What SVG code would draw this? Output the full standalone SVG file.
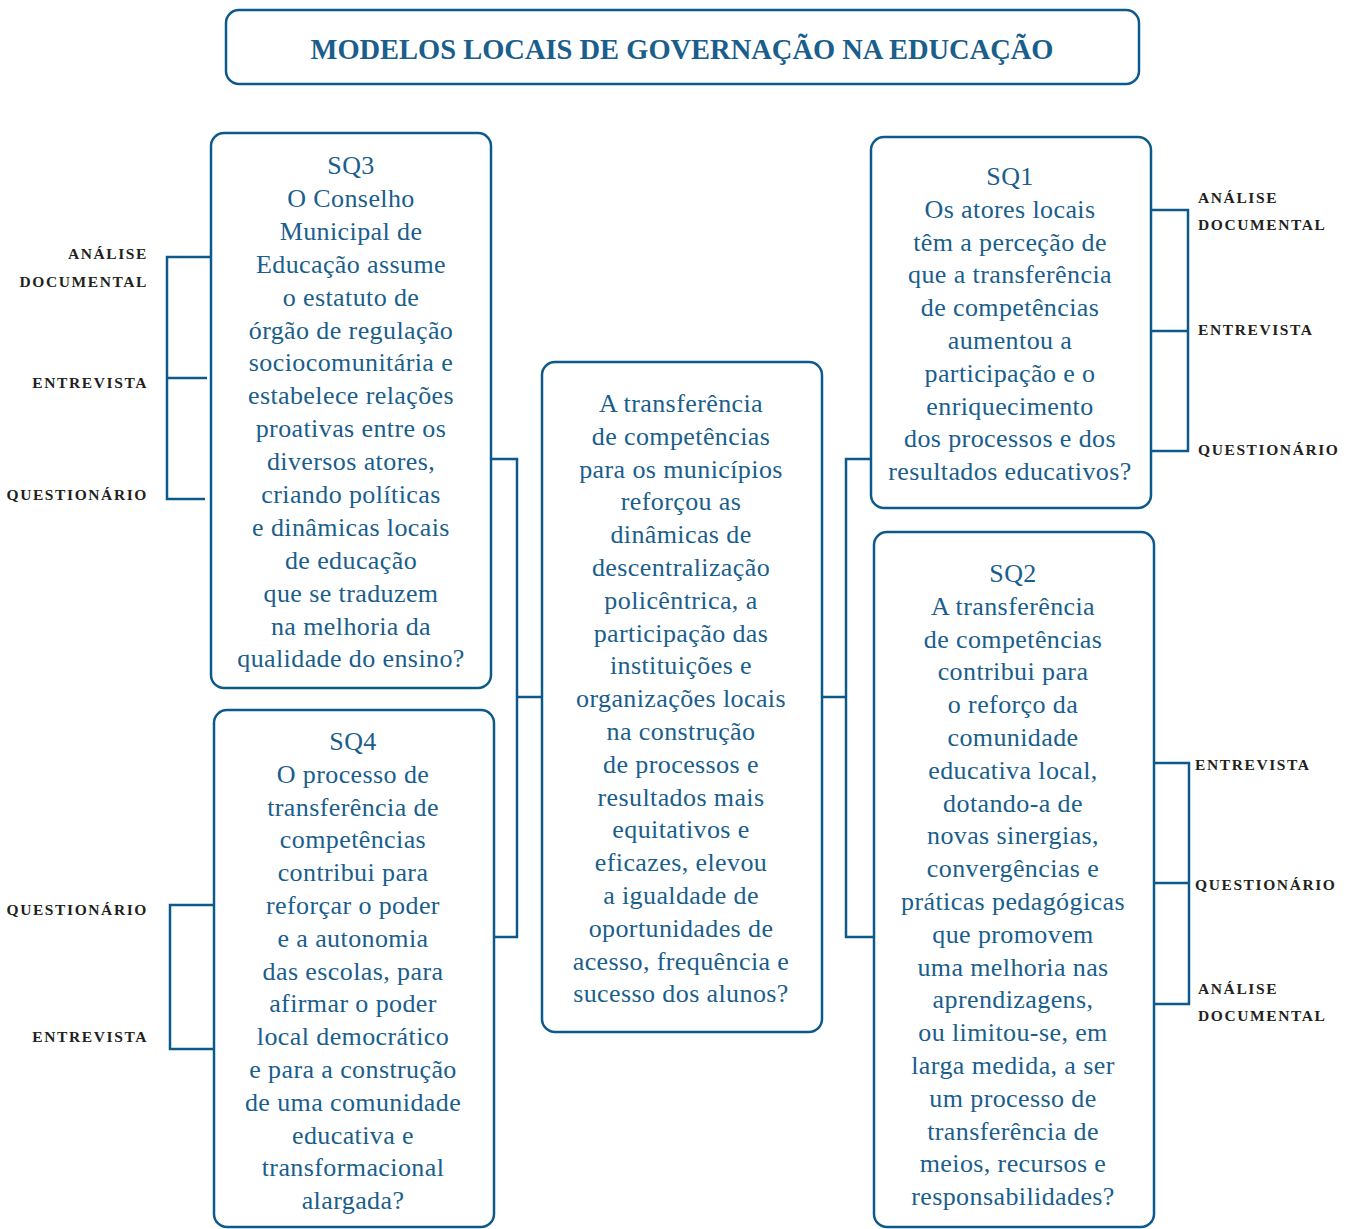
<svg xmlns="http://www.w3.org/2000/svg" width="1351" height="1229" viewBox="0 0 1351 1229">
<style>
.box{fill:#fff;stroke:#0d5a8a;stroke-width:2.5}
.ln{fill:none;stroke:#0d5a8a;stroke-width:2.5}
.t{font-family:"Liberation Serif","Times New Roman",serif;font-size:26px;letter-spacing:0.4px;fill:#1a5e8c;text-anchor:middle}
.ttl{font-family:"Liberation Serif","Times New Roman",serif;font-size:29px;font-weight:bold;fill:#1a5e8c;text-anchor:middle}
.lb{font-family:"Liberation Serif","Times New Roman",serif;font-size:15.5px;font-weight:bold;fill:#231f20;letter-spacing:1.6px}
.r{text-anchor:end}
</style>
<rect width="1351" height="1229" fill="#fff"/>
<g id="title">
<rect class="box" x="226" y="10" width="913" height="74" rx="13"/>
<text class="ttl" x="682" y="59" textLength="743" lengthAdjust="spacingAndGlyphs">MODELOS LOCAIS DE GOVERNAÇÃO NA EDUCAÇÃO</text>
</g>
<g id="connectors">
<path class="ln" d="M491 459H517V937H494M517 697H542"/>
<path class="ln" d="M871 459H846V937H874M822 697H846"/>
<path class="ln" d="M210 257H167V499H205M167 378H207"/>
<path class="ln" d="M214 905H170V1049H214"/>
<path class="ln" d="M1151 210H1188V451H1151M1151 331H1188"/>
<path class="ln" d="M1154 763H1189V1004H1154M1154 883H1189"/>
</g>
<g id="sq3">
<rect class="box" x="211" y="133" width="280" height="555" rx="13"/>
<text class="t" x="351" y="174"><tspan x="351">SQ3</tspan><tspan x="351" dy="32.9">O Conselho</tspan><tspan x="351" dy="32.9">Municipal de</tspan><tspan x="351" dy="32.9">Educação assume</tspan><tspan x="351" dy="32.9">o estatuto de</tspan><tspan x="351" dy="32.9">órgão de regulação</tspan><tspan x="351" dy="32.9">sociocomunitária e</tspan><tspan x="351" dy="32.9">estabelece relações</tspan><tspan x="351" dy="32.9">proativas entre os</tspan><tspan x="351" dy="32.9">diversos atores,</tspan><tspan x="351" dy="32.9">criando políticas</tspan><tspan x="351" dy="32.9">e dinâmicas locais</tspan><tspan x="351" dy="32.9">de educação</tspan><tspan x="351" dy="32.9">que se traduzem</tspan><tspan x="351" dy="32.9">na melhoria da</tspan><tspan x="351" dy="32.9">qualidade do ensino?</tspan></text>
</g>
<g id="sq4">
<rect class="box" x="214" y="710" width="280" height="517" rx="13"/>
<text class="t" x="353" y="750"><tspan x="353">SQ4</tspan><tspan x="353" dy="32.8">O processo de</tspan><tspan x="353" dy="32.8">transferência de</tspan><tspan x="353" dy="32.8">competências</tspan><tspan x="353" dy="32.8">contribui para</tspan><tspan x="353" dy="32.8">reforçar o poder</tspan><tspan x="353" dy="32.8">e a autonomia</tspan><tspan x="353" dy="32.8">das escolas, para</tspan><tspan x="353" dy="32.8">afirmar o poder</tspan><tspan x="353" dy="32.8">local democrático</tspan><tspan x="353" dy="32.8">e para a construção</tspan><tspan x="353" dy="32.8">de uma comunidade</tspan><tspan x="353" dy="32.8">educativa e</tspan><tspan x="353" dy="32.8">transformacional</tspan><tspan x="353" dy="32.8">alargada?</tspan></text>
</g>
<g id="center">
<rect class="box" x="542" y="362" width="280" height="670" rx="13"/>
<text class="t" x="681" y="412"><tspan x="681">A transferência</tspan><tspan x="681" dy="32.8">de competências</tspan><tspan x="681" dy="32.8">para os municípios</tspan><tspan x="681" dy="32.8">reforçou as</tspan><tspan x="681" dy="32.8">dinâmicas de</tspan><tspan x="681" dy="32.8">descentralização</tspan><tspan x="681" dy="32.8">policêntrica, a</tspan><tspan x="681" dy="32.8">participação das</tspan><tspan x="681" dy="32.8">instituições e</tspan><tspan x="681" dy="32.8">organizações locais</tspan><tspan x="681" dy="32.8">na construção</tspan><tspan x="681" dy="32.8">de processos e</tspan><tspan x="681" dy="32.8">resultados mais</tspan><tspan x="681" dy="32.8">equitativos e</tspan><tspan x="681" dy="32.8">eficazes, elevou</tspan><tspan x="681" dy="32.8">a igualdade de</tspan><tspan x="681" dy="32.8">oportunidades de</tspan><tspan x="681" dy="32.8">acesso, frequência e</tspan><tspan x="681" dy="32.8">sucesso dos alunos?</tspan></text>
</g>
<g id="sq1">
<rect class="box" x="871" y="137" width="280" height="371" rx="13"/>
<text class="t" x="1010" y="185"><tspan x="1010">SQ1</tspan><tspan x="1010" dy="32.8">Os atores locais</tspan><tspan x="1010" dy="32.8">têm a perceção de</tspan><tspan x="1010" dy="32.8">que a transferência</tspan><tspan x="1010" dy="32.8">de competências</tspan><tspan x="1010" dy="32.8">aumentou a</tspan><tspan x="1010" dy="32.8">participação e o</tspan><tspan x="1010" dy="32.8">enriquecimento</tspan><tspan x="1010" dy="32.8">dos processos e dos</tspan><tspan x="1010" dy="32.8">resultados educativos?</tspan></text>
</g>
<g id="sq2">
<rect class="box" x="874" y="532" width="280" height="695" rx="13"/>
<text class="t" x="1013" y="582"><tspan x="1013">SQ2</tspan><tspan x="1013" dy="32.8">A transferência</tspan><tspan x="1013" dy="32.8">de competências</tspan><tspan x="1013" dy="32.8">contribui para</tspan><tspan x="1013" dy="32.8">o reforço da</tspan><tspan x="1013" dy="32.8">comunidade</tspan><tspan x="1013" dy="32.8">educativa local,</tspan><tspan x="1013" dy="32.8">dotando-a de</tspan><tspan x="1013" dy="32.8">novas sinergias,</tspan><tspan x="1013" dy="32.8">convergências e</tspan><tspan x="1013" dy="32.8">práticas pedagógicas</tspan><tspan x="1013" dy="32.8">que promovem</tspan><tspan x="1013" dy="32.8">uma melhoria nas</tspan><tspan x="1013" dy="32.8">aprendizagens,</tspan><tspan x="1013" dy="32.8">ou limitou-se, em</tspan><tspan x="1013" dy="32.8">larga medida, a ser</tspan><tspan x="1013" dy="32.8">um processo de</tspan><tspan x="1013" dy="32.8">transferência de</tspan><tspan x="1013" dy="32.8">meios, recursos e</tspan><tspan x="1013" dy="32.8">responsabilidades?</tspan></text>
</g>
<g id="labels-sq3">
<text class="lb r" x="148" y="259">ANÁLISE</text>
<text class="lb r" x="148" y="287">DOCUMENTAL</text>
<text class="lb r" x="148" y="388">ENTREVISTA</text>
<text class="lb r" x="148" y="500">QUESTIONÁRIO</text>
</g>
<g id="labels-sq4">
<text class="lb r" x="148" y="915">QUESTIONÁRIO</text>
<text class="lb r" x="148" y="1042">ENTREVISTA</text>
</g>
<g id="labels-sq1">
<text class="lb" x="1198" y="203">ANÁLISE</text>
<text class="lb" x="1198" y="230">DOCUMENTAL</text>
<text class="lb" x="1198" y="335">ENTREVISTA</text>
<text class="lb" x="1198" y="455">QUESTIONÁRIO</text>
</g>
<g id="labels-sq2">
<text class="lb" x="1195" y="770">ENTREVISTA</text>
<text class="lb" x="1195" y="890">QUESTIONÁRIO</text>
<text class="lb" x="1198" y="994">ANÁLISE</text>
<text class="lb" x="1198" y="1021">DOCUMENTAL</text>
</g>
</svg>
